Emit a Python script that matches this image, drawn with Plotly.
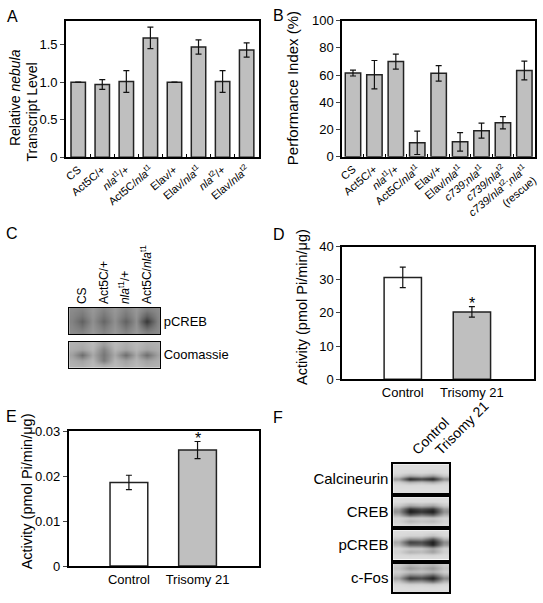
import plotly.graph_objects as go

W, H = 543, 603
FONT = "Liberation Sans, Arial, Helvetica, sans-serif"

# ---------------- Data ----------------
a_labels = ["CS", "Act5C/+", "<i>nla</i><sup>t1</sup>/+", "Act5C/<i>nla</i><sup>t1</sup>",
            "Elav/+", "Elav/<i>nla</i><sup>t1</sup>", "<i>nla</i><sup>t2</sup>/+", "Elav/<i>nla</i><sup>t2</sup>"]
a_values = [1.0, 0.97, 1.01, 1.59, 1.0, 1.47, 1.01, 1.43]
a_errors = [0, 0.065, 0.145, 0.143, 0, 0.095, 0.145, 0.095]

b_labels = ["CS", "Act5C/+", "<i>nla</i><sup>t1</sup>/+", "Act5C/<i>nla</i><sup>t1</sup>",
            "Elav/+", "Elav/<i>nla</i><sup>t1</sup>", "<i>c739;nla</i><sup>t1</sup>",
            "<i>c739/nla</i><sup>t2</sup>", "<i>c739/nla</i><sup>t2</sup>;<i>nla</i><sup>t1</sup><br>(rescue)"]
b_values = [61.5, 60.3, 69.9, 10.2, 61.3, 10.9, 19.1, 25.0, 63.4]
b_errors = [2.2, 10.4, 5.5, 8.6, 5.7, 6.8, 5.5, 4.5, 6.9]

d_labels = ["Control", "Trisomy 21"]
d_values = [30.7, 20.3]
d_errors = [3.1, 1.6]

e_labels = ["Control", "Trisomy 21"]
e_values = [0.0186, 0.0258]
e_errors = [0.0016, 0.0019]

a_ticks = [0, 0.5, 1.0, 1.5]
b_ticks = [0, 20, 40, 60, 80, 100]
d_ticks = [0, 10, 20, 30, 40]
e_ticks = [0, 0.01, 0.02, 0.03]

# Panel C blot darkness; columns = edge,lane,gap,lane,gap,lane,gap,lane,edge
c_lanes = ["CS", "Act5C/+", "<i>nla</i><sup>t1</sup>/+", "Act5C/<i>nla</i><sup>t1</sup>"]
c_rows = ["pCREB", "Coomassie"]
c_pcreb = [
    [0.48, 0.52, 0.42, 0.52, 0.42, 0.52, 0.42, 0.54, 0.48],
    [0.50, 0.58, 0.44, 0.58, 0.44, 0.58, 0.44, 0.68, 0.50],
    [0.52, 0.68, 0.46, 0.66, 0.46, 0.68, 0.46, 0.88, 0.52],
    [0.50, 0.60, 0.44, 0.58, 0.44, 0.60, 0.44, 0.70, 0.50],
    [0.48, 0.52, 0.42, 0.52, 0.42, 0.52, 0.42, 0.54, 0.48],
]
c_coomassie = [
    [0.30, 0.32, 0.26, 0.40, 0.26, 0.32, 0.26, 0.32, 0.30],
    [0.32, 0.36, 0.28, 0.52, 0.28, 0.36, 0.28, 0.36, 0.32],
    [0.38, 0.62, 0.34, 0.58, 0.34, 0.62, 0.34, 0.62, 0.38],
    [0.32, 0.38, 0.28, 0.56, 0.28, 0.38, 0.28, 0.38, 0.32],
    [0.30, 0.32, 0.26, 0.32, 0.26, 0.32, 0.26, 0.32, 0.30],
]

# Panel F blots: columns = edge, Control, gap, Trisomy 21, edge
f_lanes = ["Control", "Trisomy 21"]
f_rows = ["Calcineurin", "CREB", "pCREB", "c-Fos"]
f_calcineurin = [
    [0.10, 0.10, 0.10, 0.10, 0.10],
    [0.10, 0.10, 0.10, 0.10, 0.10],
    [0.11, 0.13, 0.12, 0.14, 0.11],
    [0.18, 0.38, 0.30, 0.44, 0.20],
    [0.42, 1.00, 0.85, 1.00, 0.48],
    [0.16, 0.30, 0.24, 0.34, 0.18],
    [0.11, 0.12, 0.11, 0.12, 0.11],
    [0.10, 0.10, 0.10, 0.10, 0.10],
    [0.10, 0.10, 0.10, 0.10, 0.10],
]
f_creb = [
    [0.10, 0.10, 0.10, 0.10, 0.10],
    [0.10, 0.12, 0.11, 0.12, 0.10],
    [0.18, 0.35, 0.28, 0.35, 0.18],
    [0.40, 0.92, 0.78, 0.90, 0.40],
    [0.45, 1.00, 0.88, 1.00, 0.45],
    [0.30, 0.70, 0.55, 0.68, 0.30],
    [0.14, 0.20, 0.17, 0.20, 0.14],
    [0.15, 0.28, 0.22, 0.26, 0.15],
    [0.11, 0.13, 0.12, 0.13, 0.11],
]
f_pcreb = [
    [0.10, 0.10, 0.10, 0.11, 0.10],
    [0.11, 0.14, 0.14, 0.22, 0.12],
    [0.20, 0.45, 0.42, 0.75, 0.28],
    [0.35, 0.85, 0.78, 1.00, 0.48],
    [0.28, 0.65, 0.65, 0.95, 0.40],
    [0.13, 0.20, 0.20, 0.35, 0.15],
    [0.15, 0.30, 0.26, 0.38, 0.16],
    [0.11, 0.13, 0.12, 0.14, 0.11],
    [0.10, 0.10, 0.10, 0.10, 0.10],
]
f_cfos = [
    [0.18, 0.30, 0.24, 0.30, 0.18],
    [0.22, 0.42, 0.32, 0.42, 0.22],
    [0.16, 0.25, 0.22, 0.30, 0.17],
    [0.25, 0.55, 0.50, 0.70, 0.32],
    [0.38, 0.90, 0.80, 1.00, 0.50],
    [0.22, 0.50, 0.45, 0.65, 0.30],
    [0.12, 0.16, 0.15, 0.18, 0.13],
    [0.10, 0.11, 0.10, 0.11, 0.10],
    [0.10, 0.10, 0.10, 0.10, 0.10],
]

# ---------------- Helpers ----------------
def xd(a, b):
    return [a / W, b / W]

def yd(top, bottom):
    return [1 - bottom / H, 1 - top / H]

GRAY = "#bfbfbf"
EDGE = "#222222"
BLOT_SCALE = [[0, "#f2f2f2"], [1, "#1c1c1c"]]

fig = go.Figure()

def bar_trace(x, y, err, colors, width, xa, ya):
    return go.Bar(
        x=x, y=y, width=width,
        marker=dict(color=colors, line=dict(color=EDGE, width=1.5)),
        error_y=dict(type="data", array=err, visible=True, color="#111", thickness=1.2, width=3),
        xaxis=xa, yaxis=ya, hoverinfo="skip",
    )

fig.add_trace(bar_trace(a_labels, a_values, a_errors, GRAY, 0.6, "x", "y"))
fig.add_trace(bar_trace(b_labels, b_values, b_errors, GRAY, 0.72, "x2", "y2"))
fig.add_trace(bar_trace(d_labels, d_values, d_errors, ["white", GRAY], 0.54, "x3", "y3"))
fig.add_trace(bar_trace(e_labels, e_values, e_errors, ["white", GRAY], 0.55, "x4", "y4"))

def blot(z, xa, ya):
    return go.Heatmap(z=z, colorscale=BLOT_SCALE, zmin=0, zmax=1, zsmooth="best",
                      showscale=False, xaxis=xa, yaxis=ya, hoverinfo="skip")

fig.add_trace(blot(c_pcreb, "x5", "y5"))
fig.add_trace(blot(c_coomassie, "x6", "y6"))
fig.add_trace(blot(f_calcineurin, "x7", "y7"))
fig.add_trace(blot(f_creb, "x8", "y8"))
fig.add_trace(blot(f_pcreb, "x9", "y9"))
fig.add_trace(blot(f_cfos, "x10", "y10"))

tickfont = dict(family=FONT, size=13, color="black")
small = dict(family=FONT, size=11, color="black")

def box_axis(**kw):
    d = dict(showline=True, linecolor="black", linewidth=2, mirror=True,
             showgrid=False, zeroline=False, fixedrange=True)
    d.update(kw)
    return d

layout = dict(
    width=W, height=H, margin=dict(l=0, r=0, t=0, b=0),
    paper_bgcolor="white", plot_bgcolor="white", showlegend=False,
    font=dict(family=FONT, color="black"),
    # A
    xaxis=box_axis(domain=xd(63, 258), anchor="y", tickangle=-40, tickfont=small,
                   ticks="inside", ticklen=3, tickson="boundaries", tickcolor="black",
                   range=[-0.5, 7.5]),
    yaxis=box_axis(domain=yd(14, 154), anchor="x", range=[0, 1.82], tickvals=a_ticks,
                   ticktext=["0", "0.5", "1.0", "1.5"], ticks="outside", ticklen=4,
                   tickfont=tickfont),
    # B
    xaxis2=box_axis(domain=xd(342.7, 538), anchor="y2", tickangle=-40, tickfont=small,
                    ticks="inside", ticklen=3, tickson="boundaries", tickcolor="black",
                    range=[-0.5, 8.5]),
    yaxis2=box_axis(domain=yd(14, 153.5), anchor="x2", range=[0, 100], tickvals=b_ticks,
                    ticks="outside", ticklen=4, tickfont=tickfont),
    # D
    xaxis3=box_axis(domain=xd(342.7, 536.7), anchor="y3", range=[-0.875, 1.895],
                    tickfont=tickfont, ticks=""),
    yaxis3=box_axis(domain=yd(245.7, 381.7), anchor="x3", range=[0, 40], tickvals=d_ticks,
                    ticks="outside", ticklen=4, tickfont=tickfont),
    # E
    xaxis4=box_axis(domain=xd(65.7, 258.3), anchor="y4", range=[-0.875, 1.895],
                    tickfont=tickfont, ticks=""),
    yaxis4=box_axis(domain=yd(435, 573.3), anchor="x4", range=[0, 0.03], tickvals=e_ticks,
                    ticktext=["0", "0.01", "0.02", "0.03"], ticks="outside", ticklen=4,
                    tickfont=tickfont),
)

# C blots
c_x_common = dict(range=[-0.2, 8.2], linewidth=1.2, ticks="")
layout["xaxis5"] = box_axis(domain=xd(66, 158), anchor="y5", side="top", tickvals=[1, 3, 5, 7],
                            ticktext=c_lanes, tickangle=-90,
                            tickfont=dict(family=FONT, size=12, color="black"), **c_x_common)
layout["yaxis5"] = box_axis(domain=yd(308.3, 335.7), anchor="x5", side="right",
                            range=[4.5, -0.5], tickvals=[2], ticktext=[c_rows[0]], ticks="",
                            linewidth=1.2, tickfont=dict(family=FONT, size=13))
layout["xaxis6"] = box_axis(domain=xd(66, 158), anchor="y6", showticklabels=False, **c_x_common)
layout["yaxis6"] = box_axis(domain=yd(343.3, 370), anchor="x6", side="right",
                            range=[4.5, -0.5], tickvals=[2], ticktext=[c_rows[1]], ticks="",
                            linewidth=1.2, tickfont=dict(family=FONT, size=13))

# F blots
f_rows_px = [(469, 498.3), (502.7, 532.3), (536.7, 566.7), (570.7, 600)]
for i, (top, bot) in enumerate(f_rows_px):
    n = 7 + i
    layout[f"xaxis{n}"] = box_axis(domain=xd(394.3, 451), anchor=f"y{n}", range=[-0.5, 4.5],
                                   linewidth=1.5, ticks="", showticklabels=False)
    layout[f"yaxis{n}"] = box_axis(domain=yd(top, bot), anchor=f"x{n}", side="left",
                                   range=[8.5, -0.5], tickvals=[4], ticktext=[f_rows[i]],
                                   ticks="", linewidth=1.5,
                                   tickfont=dict(family=FONT, size=15, color="black"))

fig.update_layout(**layout)

# ---------------- Annotations ----------------
def px_ann(text, x, y, size, angle=0, xanchor="center", yanchor="middle"):
    fig.add_annotation(text=text, x=x / W, y=1 - y / H, xref="paper", yref="paper",
                       showarrow=False, textangle=angle, xanchor=xanchor, yanchor=yanchor,
                       font=dict(family=FONT, size=size, color="black"))

# panel letters
for letter, x, y in [("A", 1, 10), ("B", 270, 8.5), ("C", 0.5, 232),
                     ("D", 270, 233.5), ("E", 0.5, 420), ("F", 270, 421)]:
    px_ann(letter, x, y, 16, xanchor="left")

# y-axis titles
px_ann("Relative <i>nebula</i>", 10.5, 93, 14, angle=-90)
px_ann("Transcript Level", 28.5, 108, 14, angle=-90)
px_ann("Performance Index (%)", 293, 83, 15, angle=-90)
px_ann("Activity (pmol Pi/min/μg)", 302.5, 308, 14.5, angle=-90)
px_ann("Activity (pmol Pi/min/μg)", 23, 497, 14.5, angle=-90)

# F lane labels (rotated, starting above each lane)
for k, lab in enumerate(f_lanes):
    fig.add_annotation(text=lab, x=1 + 2 * k, y=1 - 465 / H, xref="x7", yref="paper",
                       showarrow=False, textangle=-45, xanchor="left", yanchor="bottom",
                       xshift=-4, font=dict(family=FONT, size=14, color="black"))

# significance asterisks
fig.add_annotation(text="*", x=d_labels[1], y=d_values[1] + d_errors[1], xref="x3", yref="y3",
                   showarrow=False, yanchor="bottom", yshift=-7,
                   font=dict(family=FONT, size=16, color="black"))
fig.add_annotation(text="*", x=e_labels[1], y=e_values[1] + e_errors[1], xref="x4", yref="y4",
                   showarrow=False, yanchor="bottom", yshift=-7,
                   font=dict(family=FONT, size=16, color="black"))

# place the figure at the page's top-left corner (no default body margin), no mode bar
fig.write_html("out.html", config={"displayModeBar": False},
               post_script="document.body.style.margin='0';")
